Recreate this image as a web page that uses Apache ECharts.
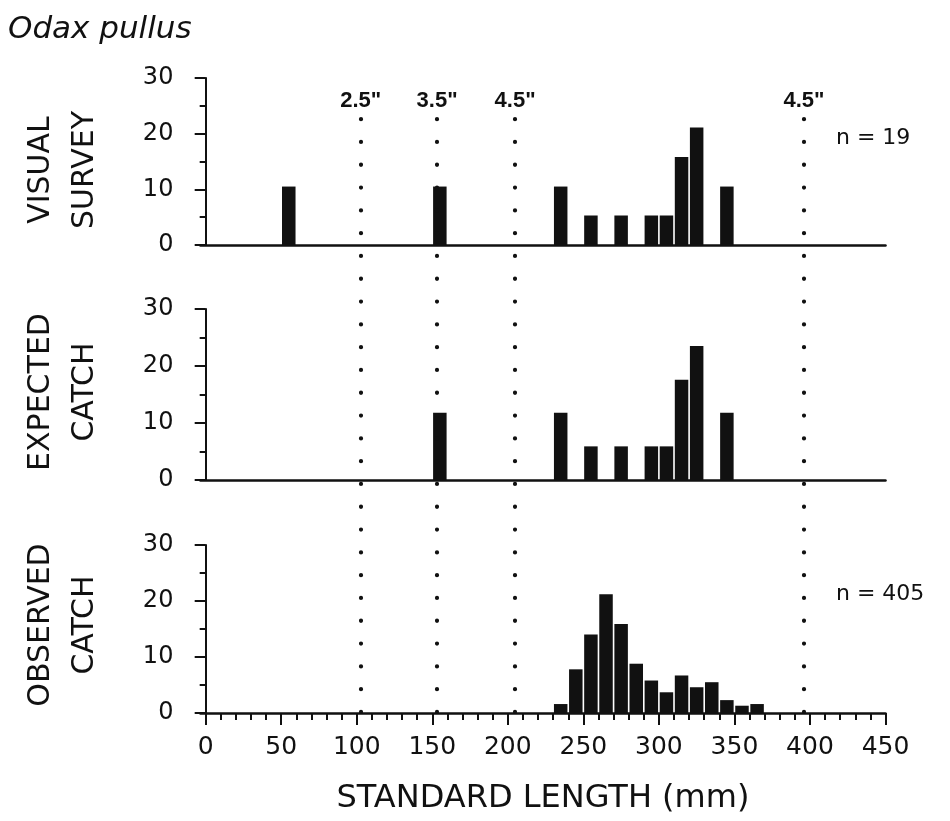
<!DOCTYPE html>
<html>
<head>
<meta charset="utf-8">
<script src="https://cdn.jsdelivr.net/npm/echarts@6/dist/echarts.min.js"></script>
<style>
  html, body { margin: 0; padding: 0; background: #fff; }
  #chart { width: 950px; height: 821px; }
</style>
</head>
<body>
<div id="chart"></div>
<script>
// Length-frequency (percent per 10 mm bin) for Odax pullus; x = bin centre (mm)
const surveyBins = [55, 155, 235, 255, 275, 295, 305, 315, 325, 345];
const surveyPct = [10.5, 10.5, 10.5, 5.3, 5.3, 5.3, 5.3, 15.8, 21.1, 10.5];

const expectedBins = [155, 235, 255, 275, 295, 305, 315, 325, 345];
const expectedPct = [11.8, 11.8, 5.9, 5.9, 5.9, 5.9, 17.6, 23.5, 11.8];

const observedBins = [235, 245, 255, 265, 275, 285, 295, 305, 315, 325, 335, 345, 355, 365];
const observedPct = [1.6, 7.8, 14.0, 21.2, 15.9, 8.8, 5.8, 3.7, 6.7, 4.6, 5.5, 2.3, 1.3, 1.6];

// Mesh size selection lengths (mm) with their labels
const meshLengths = [102.6, 153.2, 204.8, 396];
const meshLabels = ['2.5"', '3.5"', '4.5"', '4.5"'];

const panelNames = ['VISUAL\nSURVEY', 'EXPECTED\nCATCH', 'OBSERVED\nCATCH'];
const sampleSizes = ['n = 19', null, 'n = 405'];

const yTicks = [0, 10, 20, 30];
const xMajorTicks = [0, 50, 100, 150, 200, 250, 300, 350, 400, 450];
const xMinorTicks = [10, 20, 30, 40, 60, 70, 80, 90, 110, 120, 130, 140, 160, 170, 180, 190,
  210, 220, 230, 240, 260, 270, 280, 290, 310, 320, 330, 340, 360, 370, 380, 390,
  410, 420, 430, 440];

const INK = '#111';
const X_MIN = -3.5, X_MAX = 450;
const LEFT = 200.4, RIGHT = 64.5;

const grids = [
  { left: LEFT, right: RIGHT, top: 78, height: 167 },
  { left: LEFT, right: RIGHT, top: 309, height: 171 },
  { left: LEFT, right: RIGHT, top: 545, height: 168 },
  { left: LEFT, right: RIGHT, top: 116, bottom: 109 }   // overlay for mesh lines
];

function countAxis(gridIndex) {
  return {
    type: 'value', gridIndex, min: 0, max: 30, interval: 10,
    axisLine: { show: true, lineStyle: { color: INK, width: 2 } },
    axisTick: { show: true, length: 11, lineStyle: { color: INK, width: 2 } },
    minorTick: { show: true, splitNumber: 2, length: 6, lineStyle: { color: INK, width: 2 } },
    splitLine: { show: false },
    minorSplitLine: { show: false },
    axisLabel: {
      color: INK, fontSize: 24, margin: 27, fontFamily: 'DejaVu Sans',
      customValues: yTicks
    }
  };
}

function plainLengthAxis(gridIndex) {
  return {
    type: 'value', gridIndex, min: X_MIN, max: X_MAX,
    axisLine: { show: true, onZero: false, lineStyle: { color: INK, width: 2.5 } },
    axisTick: { show: false }, axisLabel: { show: false }, splitLine: { show: false }
  };
}

const xAxes = [
  plainLengthAxis(0),
  plainLengthAxis(1),
  {
    type: 'value', gridIndex: 2, min: X_MIN, max: X_MAX, position: 'bottom',
    axisLine: { show: true, onZero: false, lineStyle: { color: INK, width: 2.5 } },
    axisTick: { show: true, length: 12, customValues: xMajorTicks, lineStyle: { color: INK, width: 2 } },
    axisLabel: { show: true, customValues: xMajorTicks, color: INK, fontSize: 25, margin: 22, fontFamily: 'DejaVu Sans' },
    splitLine: { show: false },
    name: 'STANDARD LENGTH (mm)', nameLocation: 'middle', nameGap: 70,
    nameTextStyle: { color: INK, fontSize: 32, fontFamily: 'DejaVu Sans', verticalAlign: 'top' }
  },
  {
    type: 'value', gridIndex: 2, min: X_MIN, max: X_MAX, position: 'bottom',
    axisLine: { show: false },
    axisTick: { show: true, length: 7, customValues: xMinorTicks, lineStyle: { color: INK, width: 2 } },
    axisLabel: { show: false }, splitLine: { show: false }
  },
  { type: 'value', gridIndex: 3, min: X_MIN, max: X_MAX, show: false }
];

const yAxes = [countAxis(0), countAxis(1), countAxis(2),
  { type: 'value', gridIndex: 3, min: 0, max: 1, show: false }];

function barSeries(xIdx, yIdx, bins, vals) {
  return {
    type: 'bar', xAxisIndex: xIdx, yAxisIndex: yIdx,
    data: bins.map((b, i) => [b, vals[i]]),
    barWidth: 13.5,
    itemStyle: { color: INK },
    silent: true
  };
}

const series = [
  barSeries(0, 0, surveyBins, surveyPct),
  barSeries(1, 1, expectedBins, expectedPct),
  barSeries(2, 2, observedBins, observedPct),
  {
    type: 'line', xAxisIndex: 4, yAxisIndex: 3, data: [], silent: true,
    markLine: {
      silent: true,
      symbol: ['none', 'none'],
      // round-capped zero-length dashes give a row of dots
      lineStyle: { color: INK, width: 4.2, type: [0.1, 22.7], cap: 'round', opacity: 1 },
      label: {
        show: true, position: 'end', distance: 4,
        formatter: p => p.name,
        color: INK, fontSize: 22, fontWeight: 'bold', fontFamily: 'Liberation Sans'
      },
      emphasis: { disabled: true },
      data: meshLengths.map((v, i) => ({ xAxis: v, name: meshLabels[i] }))
    }
  }
];

const panelCentres = [170, 392, 625];
const graphic = [
  {
    type: 'text', left: 8, top: 14,
    style: { text: 'Odax pullus', font: 'italic 31px "DejaVu Sans"', fill: INK }
  }
];
panelNames.forEach((name, i) => {
  graphic.push({
    type: 'text', x: 63, y: panelCentres[i], rotation: Math.PI / 2,
    style: {
      text: name, font: '30px "DejaVu Sans"', fill: INK,
      align: 'center', verticalAlign: 'middle', lineHeight: 44
    }
  });
});
const nY = [138, null, 594];
sampleSizes.forEach((t, i) => {
  if (!t) return;
  graphic.push({
    type: 'text', x: 836, y: nY[i],
    style: { text: t, font: '22px "DejaVu Sans"', fill: INK, verticalAlign: 'middle' }
  });
});

const chart = echarts.init(document.getElementById('chart'), null, { renderer: 'canvas' });
chart.setOption({
  animation: false,
  backgroundColor: '#fff',
  grid: grids,
  xAxis: xAxes,
  yAxis: yAxes,
  series,
  graphic
});
</script>
</body>
</html>
